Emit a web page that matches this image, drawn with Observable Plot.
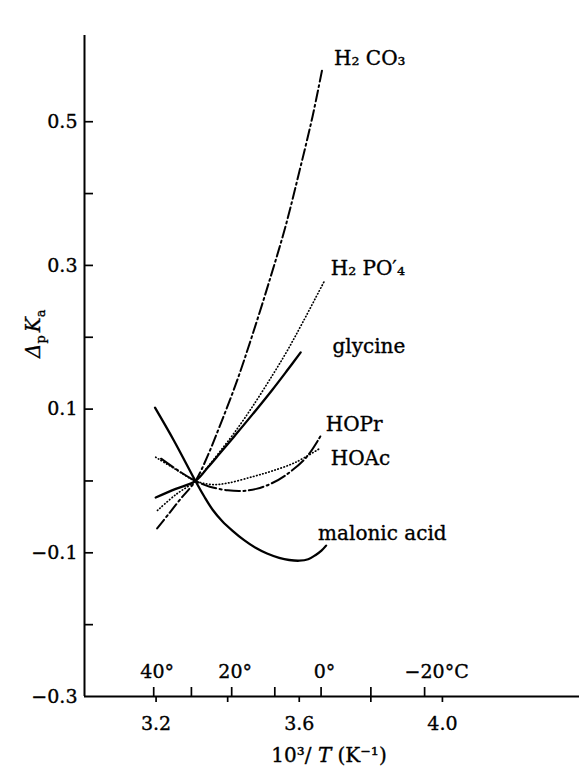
<!DOCTYPE html>
<html>
<head>
<meta charset="utf-8">
<script src="https://cdn.jsdelivr.net/npm/d3@7"></script>
<script src="https://cdn.jsdelivr.net/npm/@observablehq/plot@0.6"></script>
<style>
  body { margin: 0; background: #fff; }
  #chart svg { display: block; }
</style>
</head>
<body>
<div id="chart"></div>
<script>
// Axis extents and ticks (x = 10^3/T in K^-1, y = Δ pKa)
const xDomain = [3.0, 4.383];
const yDomain = [-0.3, 0.62];
const xTicks = [3.2, 3.4, 3.6, 3.8, 4.0];
const xTickLabels = [3.2, 3.6, 4.0];
const yTicks = [-0.2, -0.1, 0, 0.1, 0.2, 0.3, 0.4, 0.5];
const yTickLabels = [-0.3, -0.1, 0.1, 0.3, 0.5];
// Celsius scale marked along the x axis
const tempTicks = [40, 30, 20, 10, 0, -10, -20];
const tempLabels = [
  {t: 40, label: "40°"},
  {t: 20, label: "20°"},
  {t: 0, label: "0°"},
  {t: -20, label: "−20°C"}
];

// Curves: [10^3/T, Δ pKa]
const h2co3 = [[3.203,-0.066],[3.235,-0.046],[3.27,-0.024],[3.31,0.0],[3.345,0.036],[3.376,0.074],[3.423,0.135],[3.469,0.203],[3.52,0.284],[3.562,0.355],[3.60,0.430],[3.637,0.507],[3.665,0.575]];
const h2po4 = [[3.204,-0.041],[3.255,-0.019],[3.31,0.0],[3.345,0.02],[3.38,0.042],[3.42,0.068],[3.47,0.104],[3.525,0.147],[3.565,0.180],[3.61,0.221],[3.67,0.278]];
const glycine = [[3.199,-0.023],[3.255,-0.011],[3.31,0.0],[3.345,0.019],[3.376,0.037],[3.42,0.063],[3.47,0.093],[3.525,0.127],[3.565,0.153],[3.604,0.179]];
const hopr = [[3.214,0.031],[3.26,0.015],[3.31,0.0],[3.35,-0.008],[3.40,-0.013],[3.44,-0.014],[3.48,-0.011],[3.52,-0.004],[3.562,0.008],[3.62,0.033],[3.66,0.063]];
const hoac = [[3.199,0.033],[3.255,0.016],[3.31,0.0],[3.357,-0.005],[3.40,-0.003],[3.47,0.006],[3.525,0.014],[3.59,0.026],[3.66,0.046]];
const malonic = [[3.197,0.102],[3.25,0.056],[3.31,0.0],[3.335,-0.022],[3.358,-0.040],[3.385,-0.056],[3.413,-0.069],[3.445,-0.082],[3.478,-0.093],[3.51,-0.101],[3.544,-0.107],[3.572,-0.110],[3.60,-0.111],[3.625,-0.109],[3.646,-0.103],[3.662,-0.097],[3.675,-0.09]];

const seriesNames = ["H₂ CO₃", "H₂ PO′₄", "glycine", "HOPr", "HOAc", "malonic acid"];
const seriesData = [h2co3, h2po4, glycine, hopr, hoac, malonic];

// Line styles and label offsets for each curve
const dotted = {strokeWidth: 1.7, strokeDasharray: "0.5,2.7", strokeLinecap: "round"};
const seriesStyle = {
  "H₂ CO₃":       {line: {strokeWidth: 2, strokeDasharray: "11,3.5,2,3.5"}, dx: 11.5, dy: -9.6},
  "H₂ PO′₄":      {line: dotted, dx: 6.4, dy: -13.1},
  "glycine":      {line: {strokeWidth: 2.3}, dx: 31.8, dy: -5.7},
  "HOPr":         {line: {strokeWidth: 2, strokeDasharray: "15,3.5,2,3.5"}, dx: 5, dy: -10.9},
  "HOAc":         {line: dotted, dx: 10, dy: 10.9},
  "malonic acid": {line: {strokeWidth: 2.3}, dx: -8, dy: -11.6}
};
const tempLabelDx = {"40°": 3.5, "20°": 3.5, "0°": 3.5, "−20°C": 12};

// Slightly heavier lettering
const ink = {fill: "black", stroke: "black", strokeWidth: 0.35};

const W = 579, H = 768;
const M = {top: 35, right: 0, bottom: 72, left: 84};
const innerW = W - M.left - M.right;
const innerH = H - M.top - M.bottom;

const invT = t => 1000 / (t + 273.15);
const signed = d => (d < 0 ? "−" : "") + Math.abs(d).toFixed(1);

const curveMarks = [];
seriesNames.forEach((name, i) => {
  const st = seriesStyle[name];
  curveMarks.push(Plot.line(seriesData[i], {
    x: d => d[0], y: d => d[1], stroke: "black", curve: "catmull-rom", ...st.line
  }));
  curveMarks.push(Plot.text(seriesData[i], Plot.selectLast({
    x: d => d[0], y: d => d[1], text: () => name,
    textAnchor: "start", lineAnchor: "middle", dx: st.dx, dy: st.dy,
    fontSize: 20, ...ink
  })));
});

const chart = Plot.plot({
  width: W,
  height: H,
  marginTop: M.top,
  marginRight: M.right,
  marginBottom: M.bottom,
  marginLeft: M.left,
  x: {domain: xDomain, axis: null},
  y: {domain: yDomain, axis: null},
  style: {fontFamily: "'DejaVu Serif', serif", fontSize: "18px", color: "black", background: "white"},
  marks: [
    // axis lines
    Plot.ruleX([xDomain[0]], {stroke: "black", strokeWidth: 2}),
    Plot.ruleY([yDomain[0]], {stroke: "black", strokeWidth: 2}),
    // y ticks pointing inward, labels on every other tick
    Plot.tickY(yTicks, {y: d => d, insetRight: innerW - 9, stroke: "black", strokeWidth: 1.7}),
    Plot.text(yTickLabels, {
      y: d => d, text: signed, frameAnchor: "left", textAnchor: "end",
      lineAnchor: "middle", dx: -7, fontSize: 19, ...ink
    }),
    // 10^3/T ticks below the axis
    Plot.tickX(xTicks, {x: d => d, insetTop: innerH, insetBottom: -6, stroke: "black", strokeWidth: 1.7}),
    Plot.text(xTickLabels, {
      x: d => d, text: d => d.toFixed(1), frameAnchor: "bottom",
      lineAnchor: "middle", dy: 27, fontSize: 19, ...ink
    }),
    // Celsius ticks above the axis
    Plot.tickX(tempTicks, {x: invT, insetTop: innerH - 9, stroke: "black", strokeWidth: 1.7}),
    ...tempLabels.map(d => Plot.text([d], {
      x: e => invT(e.t), text: "label", frameAnchor: "bottom",
      lineAnchor: "middle", dy: -25, dx: tempLabelDx[d.label], fontSize: 19, ...ink
    })),
    // axis titles
    Plot.text(["10³/T (K⁻¹)"], {frameAnchor: "bottom", lineAnchor: "middle", dy: 59, dx: -3, fontSize: 20, ...ink}),
    Plot.text(["ΔpKa"], {frameAnchor: "left", rotate: -90, lineAnchor: "middle", dx: -51, dy: -8, fontSize: 20, ...ink}),
    ...curveMarks
  ]
});

// Typographic touches: italic symbols, sub/superscripts in the axis titles
d3.select(chart).selectAll("text").each(function() {
  const el = d3.select(this);
  const txt = el.text();
  if (txt === "10³/T (K⁻¹)") {
    el.text(null);
    el.append("tspan").text("10³/ ");
    el.append("tspan").attr("font-style", "italic").text("T");
    el.append("tspan").text(" (K⁻¹)");
  } else if (txt === "ΔpKa") {
    el.text(null);
    el.append("tspan").attr("font-style", "italic").text("Δ");
    el.append("tspan").attr("font-size", 13).attr("dy", 5).text("p");
    el.append("tspan").attr("font-style", "italic").attr("dy", -5).attr("dx", 3).text("K");
    el.append("tspan").attr("font-size", 13).attr("dy", 5).text("a");
  }
});

document.getElementById("chart").append(chart);
</script>
</body>
</html>
